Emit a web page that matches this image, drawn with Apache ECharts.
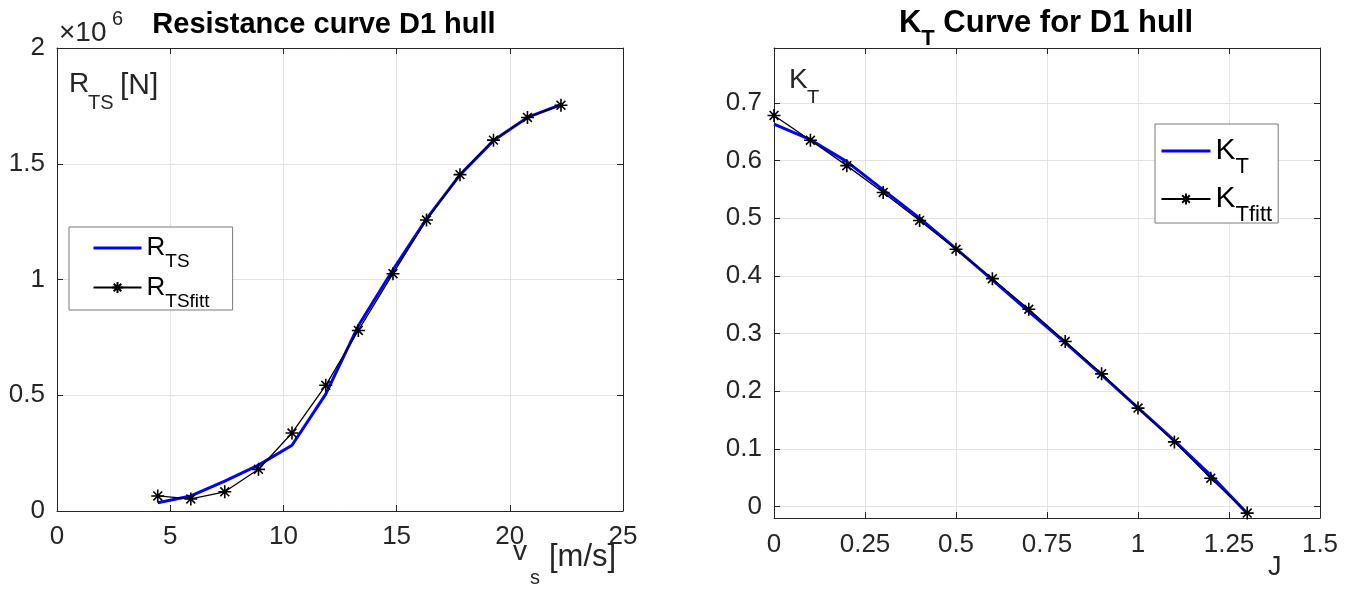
<!DOCTYPE html>
<html>
<head>
<meta charset="utf-8">
<script src="https://cdn.jsdelivr.net/npm/echarts@6/dist/echarts.min.js"></script>
<style>
html,body{margin:0;padding:0;background:#fff;}
#chart{width:1361px;height:590px;}
</style>
</head>
<body>
<div id="chart"></div>
<script>
// ---------- data ----------
const speedVs = [4.45, 5.91, 7.41, 8.90, 10.38, 11.87, 13.31, 14.84, 16.32, 17.80, 19.28, 20.78, 22.26];
const resistanceRTS = [36000, 65000, 129000, 198000, 284000, 505000, 800000, 1042000, 1262000, 1452000, 1600000, 1700000, 1755000];
const resistanceFit = [65000, 52000, 83000, 180000, 337000, 543000, 780000, 1025000, 1257000, 1453000, 1602000, 1700000, 1753000];

const advanceJ = [0, 0.1, 0.2, 0.3, 0.4, 0.5, 0.6, 0.7, 0.8, 0.9, 1.0, 1.1, 1.2, 1.3];
const ktCurve = [0.663, 0.636, 0.598, 0.549, 0.500, 0.447, 0.393, 0.338, 0.284, 0.228, 0.171, 0.114, 0.054, -0.012];
const ktFit = [0.678, 0.635, 0.591, 0.5445, 0.496, 0.446, 0.395, 0.342, 0.286, 0.230, 0.1706, 0.112, 0.049, -0.0115];

const ktTicks = [0, 0.1, 0.2, 0.3, 0.4, 0.5, 0.6, 0.7];

// ---------- styling helpers ----------
const FONT = 'Liberation Sans, Arial, Helvetica, sans-serif';
const AX = '#262626';
const GRIDC = '#e3e3e3';
const TICK_FS = 26;
const ASTERISK = 'path://M5 0 L5 10 M0 5 L10 5 M1.6 1.6 L8.4 8.4 M8.4 1.6 L1.6 8.4';
const HIDDEN = { color: 'rgba(0,0,0,0)', borderColor: 'rgba(0,0,0,0)', borderWidth: 0 };

const pairs = (xs, ys) => xs.map((x, i) => [x, ys[i]]);

function baseAxis(extra) {
  return Object.assign({
    type: 'value',
    axisLine: { show: true, onZero: false, lineStyle: { color: AX, width: 1 } },
    axisTick: { show: true, inside: true, length: 6, lineStyle: { color: AX } },
    axisLabel: { color: AX, fontSize: TICK_FS, fontFamily: FONT },
    splitLine: { show: true, lineStyle: { color: GRIDC, width: 1 } }
  }, extra);
}
function mirrorAxis(extra) {
  const a = baseAxis(extra);
  a.axisLabel = { show: false };
  a.splitLine = { show: false };
  return a;
}
const lbl = (extra) => Object.assign({ color: AX, fontSize: TICK_FS, fontFamily: FONT }, extra);

const option = {
  animation: false,
  backgroundColor: '#fff',
  title: [
    { text: 'Resistance curve D1 hull', left: 324, top: 10, padding: 0, textAlign: 'center',
      textStyle: { fontFamily: FONT, fontSize: 29, fontWeight: 'bold', color: '#000' } },
    { text: '{m|K}{s|T}{m| Curve for D1 hull}', left: 1046, top: -4, padding: 0, textAlign: 'center',
      textStyle: { rich: {
        m: { fontFamily: FONT, fontSize: 31, fontWeight: 'bold', color: '#000' },
        s: { fontFamily: FONT, fontSize: 22, fontWeight: 'bold', color: '#000', padding: [32, 0, 0, 0] }
      } } }
  ],
  grid: [
    { left: 57, top: 48, width: 566, height: 463 },
    { left: 774, top: 48, width: 546, height: 470 }
  ],
  xAxis: [
    baseAxis({ gridIndex: 0, min: 0, max: 25, interval: 5, axisLabel: lbl({ margin: 13 }) }),
    mirrorAxis({ gridIndex: 0, position: 'top', min: 0, max: 25, interval: 5 }),
    baseAxis({ gridIndex: 1, min: 0, max: 1.5, interval: 0.25, axisLabel: lbl({ margin: 14 }) }),
    mirrorAxis({ gridIndex: 1, position: 'top', min: 0, max: 1.5, interval: 0.25 })
  ],
  yAxis: [
    baseAxis({ gridIndex: 0, min: 0, max: 2000000, interval: 500000,
      axisLabel: lbl({ margin: 12, formatter: v => String(v / 1e6) }) }),
    mirrorAxis({ gridIndex: 0, position: 'right', min: 0, max: 2000000, interval: 500000 }),
    baseAxis({ gridIndex: 1, min: -0.02, max: 0.795,
      axisLabel: lbl({ margin: 12, customValues: ktTicks, formatter: v => String(Math.round(v * 10) / 10) }),
      axisTick: { show: true, inside: true, length: 6, lineStyle: { color: AX }, customValues: ktTicks } }),
    mirrorAxis({ gridIndex: 1, position: 'right', min: -0.02, max: 0.795,
      axisTick: { show: true, inside: true, length: 6, lineStyle: { color: AX }, customValues: ktTicks } })
  ],
  legend: [
    { data: [{ name: 'R_TS', itemStyle: HIDDEN, lineStyle: { width: 3, color: '#0000ff' } }, { name: 'R_TSfitt' }],
      orient: 'vertical', left: 69, top: 227,
      padding: [8, 23, -1, 23], itemGap: 3, itemWidth: 48, itemHeight: 14,
      backgroundColor: '#fff', borderColor: '#7a7a7a', borderWidth: 1,
      selectedMode: false,
      formatter: n => n === 'R_TS' ? '{m|R}{s|TS}' : '{m|R}{s|TSfitt}',
      textStyle: { rich: {
        m: { fontSize: 26, fontFamily: FONT, color: '#000' },
        s: { fontSize: 19, fontFamily: FONT, color: '#000', padding: [28, 0, 0, 0] }
      } } },
    { data: [{ name: 'K_T', itemStyle: HIDDEN, lineStyle: { width: 3, color: '#0000ff' } }, { name: 'K_Tfitt' }],
      orient: 'vertical', left: 1155, top: 124,
      padding: [12, 6, -3, 5], itemGap: 6, itemWidth: 49, itemHeight: 14,
      backgroundColor: '#fff', borderColor: '#7a7a7a', borderWidth: 1,
      selectedMode: false,
      formatter: n => n === 'K_T' ? '{m|K}{s|T}' : '{m|K}{s|Tfitt}',
      textStyle: { rich: {
        m: { fontSize: 30, fontFamily: FONT, color: '#000' },
        s: { fontSize: 22, fontFamily: FONT, color: '#000', padding: [32, 0, 0, 0] }
      } } }
  ],
  series: [
    { name: 'R_TS', type: 'line', xAxisIndex: 0, yAxisIndex: 0, data: pairs(speedVs, resistanceRTS),
      symbol: 'none', lineStyle: { color: '#0000ff', width: 3 }, itemStyle: { color: '#0000ff' },
      emphasis: { disabled: true }, z: 2 },
    { name: 'R_TSfitt', type: 'line', xAxisIndex: 0, yAxisIndex: 0, data: pairs(speedVs, resistanceFit),
      symbol: ASTERISK, symbolSize: 13, showAllSymbol: true,
      lineStyle: { color: '#000', width: 1.3 },
      itemStyle: { color: '#000', borderColor: '#000', borderWidth: 1.6 },
      emphasis: { disabled: true }, z: 3 },
    { name: 'K_T', type: 'line', xAxisIndex: 2, yAxisIndex: 2, data: pairs(advanceJ, ktCurve),
      symbol: 'none', lineStyle: { color: '#0000ff', width: 3 }, itemStyle: { color: '#0000ff' },
      emphasis: { disabled: true }, z: 2 },
    { name: 'K_Tfitt', type: 'line', xAxisIndex: 2, yAxisIndex: 2, data: pairs(advanceJ, ktFit),
      symbol: ASTERISK, symbolSize: 13, showAllSymbol: true,
      lineStyle: { color: '#000', width: 1.3 },
      itemStyle: { color: '#000', borderColor: '#000', borderWidth: 1.6 },
      emphasis: { disabled: true }, z: 3 }
  ],
  graphic: [
    // left: exponent and y-label
    { type: 'text', x: 59, y: 33, style: { text: '×10', font: '28px ' + FONT, fill: AX, verticalAlign: 'middle' } },
    { type: 'text', x: 112, y: 19, style: { text: '6', font: '20px ' + FONT, fill: AX, verticalAlign: 'middle' } },
    { type: 'text', x: 69, y: 84, style: { text: 'R', font: '28px ' + FONT, fill: AX, verticalAlign: 'middle' } },
    { type: 'text', x: 88, y: 103, style: { text: 'TS', font: '20px ' + FONT, fill: AX, verticalAlign: 'middle' } },
    { type: 'text', x: 120, y: 86, style: { text: '[N]', font: '30px ' + FONT, fill: AX, verticalAlign: 'middle' } },
    // left x label
    { type: 'text', x: 513, y: 552, style: { text: 'v', font: '28px ' + FONT, fill: AX, verticalAlign: 'middle' } },
    { type: 'text', x: 530, y: 578, style: { text: 's', font: '20px ' + FONT, fill: AX, verticalAlign: 'middle' } },
    { type: 'text', x: 549, y: 557, style: { text: '[m/s]', font: '31px ' + FONT, fill: AX, verticalAlign: 'middle' } },
    // right labels
    { type: 'text', x: 789, y: 80, style: { text: 'K', font: '28px ' + FONT, fill: AX, verticalAlign: 'middle' } },
    { type: 'text', x: 807, y: 98, style: { text: 'T', font: '20px ' + FONT, fill: AX, verticalAlign: 'middle' } },
    { type: 'text', x: 1268, y: 568, style: { text: 'J', font: '27px ' + FONT, fill: AX, verticalAlign: 'middle' } }
  ]
};

const chart = echarts.init(document.getElementById('chart'), null, { renderer: 'canvas' });
chart.setOption(option);
</script>
</body>
</html>
